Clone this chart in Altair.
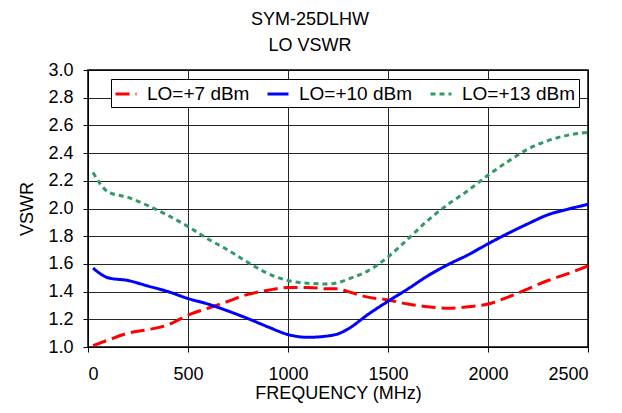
import altair as alt
import pandas as pd

freq = [25, 100, 200, 300, 400, 500, 600, 700, 800, 900, 1000, 1100, 1200, 1250, 1300,
        1400, 1500, 1600, 1700, 1800, 1900, 2000, 2100, 2200, 2300, 2400, 2500]
lo7 = [1.01, 1.05, 1.10, 1.125, 1.16, 1.23, 1.28, 1.33, 1.38, 1.41, 1.43, 1.43, 1.42, 1.42, 1.40,
       1.36, 1.34, 1.31, 1.29, 1.28, 1.29, 1.31, 1.36, 1.42, 1.48, 1.53, 1.585]
lo10 = [1.57, 1.50, 1.48, 1.44, 1.40, 1.35, 1.31, 1.26, 1.205, 1.145, 1.09, 1.07, 1.08, 1.095, 1.13,
        1.235, 1.33, 1.42, 1.515, 1.595, 1.665, 1.745, 1.82, 1.89, 1.955, 1.995, 2.03]
lo13 = [2.26, 2.12, 2.08, 2.02, 1.95, 1.87, 1.78, 1.70, 1.61, 1.53, 1.48, 1.46, 1.455, 1.465, 1.49,
        1.55, 1.65, 1.78, 1.915, 2.03, 2.13, 2.24, 2.34, 2.43, 2.49, 2.53, 2.55]
series_names = ["LO=+7 dBm", "LO=+10 dBm", "LO=+13 dBm"]
series_colors = ["#FF0000", "#0000FF", "#339966"]
series_dash = [[14, 6], [1, 0], [5, 4]]

rows = []
for name, vals in zip(series_names, [lo7, lo10, lo13]):
    for f, v in zip(freq, vals):
        rows.append({"freq": f, "vswr": v, "series": name})
df = pd.DataFrame(rows)

font = "Liberation Sans"

legend = alt.Legend(
    title=None, orient="none", legendX=23, legendY=9, direction="horizontal",
    fillColor="white", strokeColor="black", padding=3, labelFontSize=19,
    labelFont=font, labelColor="black", symbolType="stroke", symbolSize=440,
    symbolStrokeWidth=3, columnPadding=11, labelOffset=9, cornerRadius=0,
)

chart = alt.Chart(df).mark_line(strokeWidth=3, interpolate="monotone").encode(
    x=alt.X("freq:Q", scale=alt.Scale(domain=[0, 2500], nice=False),
            axis=alt.Axis(title="FREQUENCY (MHz)", values=[0, 500, 1000, 1500, 2000, 2500],
                          format="d", labelPadding=13, titlePadding=1)),
    y=alt.Y("vswr:Q", scale=alt.Scale(domain=[1.0, 3.0], nice=False, zero=False),
            axis=alt.Axis(title="VSWR", values=[1.0, 1.2, 1.4, 1.6, 1.8, 2.0, 2.2, 2.4, 2.6, 2.8, 3.0],
                          format=".1f", labelPadding=10, titlePadding=11)),
    color=alt.Color("series:N", scale=alt.Scale(domain=series_names, range=series_colors),
                    legend=legend),
    strokeDash=alt.StrokeDash("series:N", scale=alt.Scale(domain=series_names, range=series_dash),
                              legend=legend),
    order=alt.Order("freq:Q"),
).properties(
    width=500, height=277,
    title=alt.TitleParams(["SYM-25DLHW", "LO VSWR"], fontSize=18, font=font, fontWeight="normal",
                          anchor="middle", dx=-28, lineHeight=26, offset=6, color="black"),
    autosize=alt.AutoSizeParams(type="none"),
    padding={"left": 80, "top": 62, "right": 26, "bottom": 58},
).configure_axis(
    labelFont=font, titleFont=font, labelFontSize=18, titleFontSize=18, titleFontWeight="normal",
    labelColor="black", titleColor="black", domainColor="black", tickColor="black",
    gridColor="black", gridWidth=1, gridOpacity=0.85, tickSize=5, domainWidth=1,
).configure_view(stroke="black", strokeWidth=1.5)

chart.save("out.html", embed_options={"renderer": "svg", "actions": False})
